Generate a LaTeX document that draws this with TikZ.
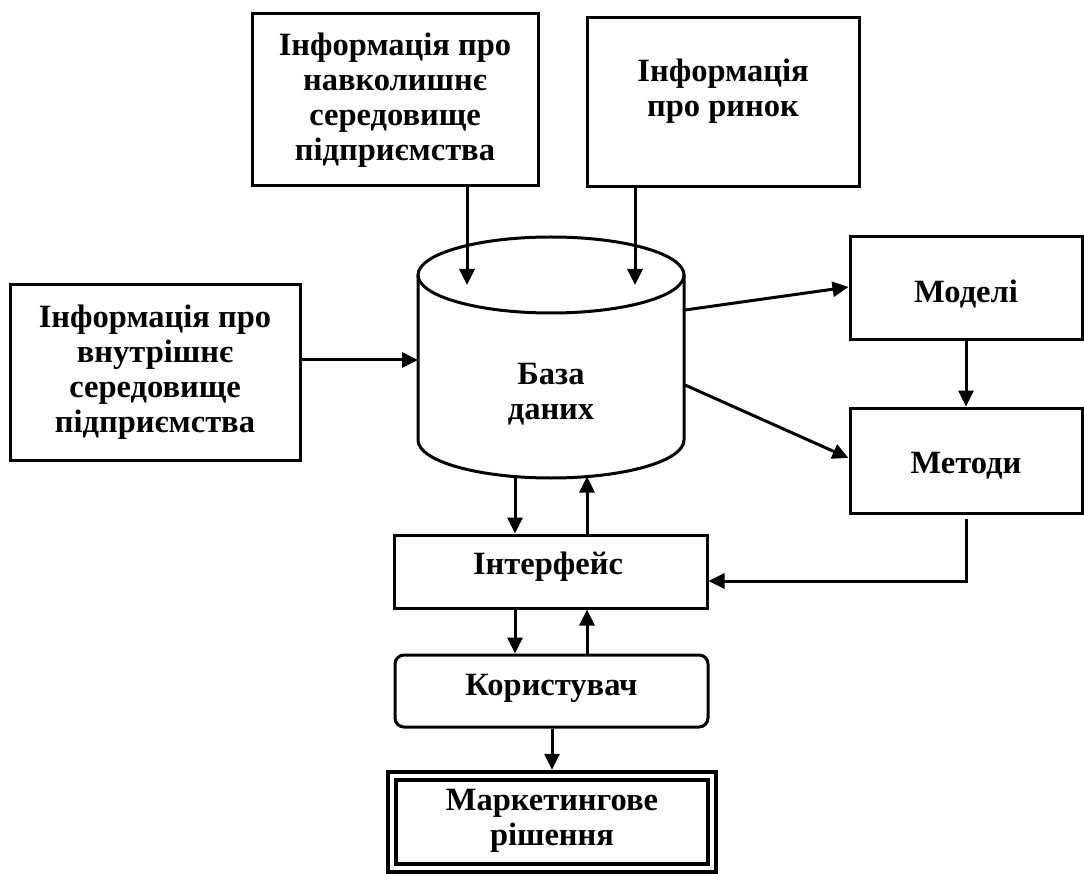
\documentclass[tikz,border=0pt]{standalone}
\usepackage{fontspec}
\setmainfont{Liberation Serif}
\usetikzlibrary{arrows.meta}
\newcommand\dtxt{\fontsize{32.5}{35}\selectfont\bfseries}
\tikzset{
  box/.style={draw, line width=3pt, inner sep=0pt, align=center, font=\dtxt},
  lbl/.style={inner sep=0pt, align=center, font=\dtxt},
  arr/.style={line width=3pt, -{Triangle[length=16pt,width=15pt]}},
  ln/.style={line width=3pt},
}
\begin{document}
\begin{tikzpicture}[x=1pt,y=-1pt]
\useasboundingbox (0,0) rectangle (1084,874);

% top boxes
\node[box, minimum width=286pt, minimum height=172pt] (A) at (395,100)
  {Інформація про\\навколишнє\\середовище\\підприємства};
\node[box, minimum width=272pt, minimum height=169pt] (B) at (723,102.5) {};
\node[lbl] (Bt) at (723,91) {Інформація\\про ринок};

% left box
\node[box, minimum width=290pt, minimum height=175pt] (C) at (155,372.5)
  {Інформація про\\внутрішнє\\середовище\\підприємства};

% database cylinder
\node[inner sep=0pt, minimum width=266pt, minimum height=203pt] (db) at (551,376.5) {};
\draw[line width=3pt] (551,275) ellipse [x radius=133, y radius=38];
\draw[line width=3pt] (418,275) -- (418,440) arc[start angle=180, end angle=0, x radius=133, y radius=38] -- (684,275);
\node[lbl] (dbt) at (551,394) {База\\даних};

% right boxes
\node[box, minimum width=232pt, minimum height=103pt] (M) at (966,288.5) {};
\node[lbl] (Mt) at (966,294) {Моделі};
\node[box, minimum width=232pt, minimum height=105pt] (Me) at (966,460.5) {};
\node[lbl] (Met) at (966,466) {Методи};

% interface, user, decision
\node[box, minimum width=313pt, minimum height=73pt] (I) at (550.5,571.5) {};
\node[lbl] (It) at (548,567) {Інтерфейс};
\node[box, rounded corners=9pt, minimum width=313pt, minimum height=72pt] (K) at (551.5,691) {};
\node[lbl] (Kt) at (551.5,688) {Користувач};
\node[draw, line width=4.5pt, inner sep=0pt, minimum width=328pt, minimum height=100pt] (R) at (552,822) {};
\draw[line width=4pt] ([shift={(10,10)}]R.north west) rectangle ([shift={(-10,-10)}]R.south east);
\node[lbl] (Rt) at (552,821) {Маркетингове\\рішення};

% connection points
\coordinate (pA) at (467,285);
\coordinate (pB) at (635,285);
\coordinate (pC) at (418,360);
\coordinate (pM) at (685,310);
\coordinate (pMe) at (685,385);
\coordinate (pd1) at (515,476.5);
\coordinate (pd2) at (587,476.5);
\coordinate (s1) at (966,519);
\coordinate (s2) at (966,583);
\coordinate (s3) at (966,581);

% connectors
\draw[arr] (A.south -| pA) -- (pA);
\draw[arr] (B.south -| pB) -- (pB);
\draw[arr] (C.east |- pC) -- (pC);
\draw[arr] (pM) -- (M.west |- 0,287);
\draw[arr] (pMe) -- (Me.west |- 0,458);
\draw[arr] (M.south) -- (Me.north);
\draw[ln] (s1) -- (s2);
\draw[arr] (s3) -- (I.east |- s3);
\draw[arr] (pd1) -- (I.north -| pd1);
\draw[arr] (I.north -| pd2) -- (pd2);
\draw[arr] (I.south -| pd1) -- (K.north -| pd1);
\draw[arr] (K.north -| pd2) -- (I.south -| pd2);
\draw[arr] (K.south -| R.north) -- (R.north);
\end{tikzpicture}
\end{document}
